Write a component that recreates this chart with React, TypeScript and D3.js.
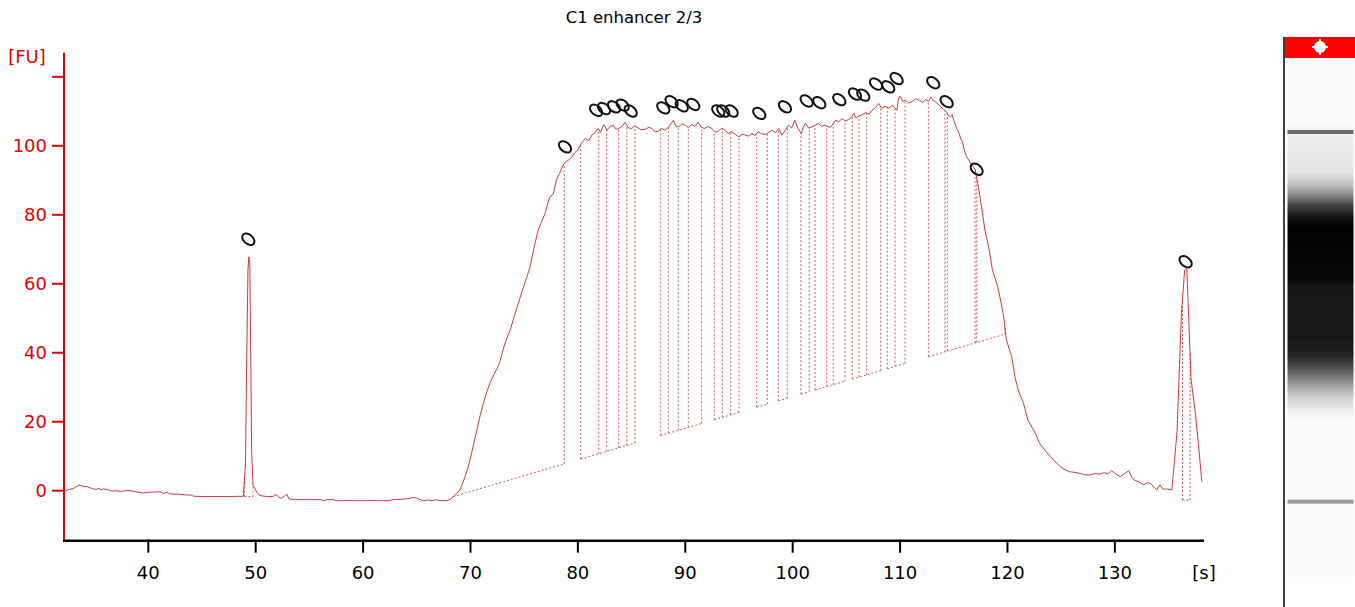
import * as d3 from 'd3';
import {useEffect, useRef} from 'react';

const title = 'C1 enhancer 2/3';
const xTicks = [40, 50, 60, 70, 80, 90, 100, 110, 120, 130];
const yTicks = [0, 20, 40, 60, 80, 100, 120];
const yTickLabels = ['0', '20', '40', '60', '80', '100', ''];

// [time s, FU]
const trace: [number, number][] = [
	[32.15, -0.3], [32.5, 0.3], [33.0, 0.6], [33.4, 1.4], [33.6, 1.6], [34.0, 1.2], [34.3, 1.2], [34.6, 0.8],
	[34.9, 0.5], [35.2, 0.4], [35.4, 0.7], [35.6, 0.2], [35.8, 0.5], [36.2, 0.3], [36.6, -0.1], [37.0, 0.0],
	[37.4, -0.2], [37.8, 0.0], [38.3, 0.0], [38.8, -0.3], [39.3, -0.5], [39.5, -0.7], [40.0, -0.5], [40.5, -0.4],
	[41.1, -0.3], [41.4, -0.8], [41.7, -0.5], [42.0, -0.9], [42.3, -1.0], [42.8, -1.0], [43.4, -1.2], [44.0, -1.3],
	[44.2, -1.6], [45.0, -1.7], [46.4, -1.7], [47.5, -1.7], [48.85, -1.6],
	[49.05, 8], [49.15, 35], [49.28, 64], [49.35, 67.8], [49.45, 66], [49.53, 42], [49.62, 12], [49.75, 1.5],
	[49.9, 0.8], [50.1, -0.5], [50.3, -1.2], [50.6, -1.5],
	[51.0, -1.7], [51.6, -1.7], [51.8, -1.1], [52.0, -1.4], [52.3, -2.2], [52.6, -1.8], [52.9, -1.0], [53.1, -2.4],
	[53.5, -2.5], [54.1, -2.6], [55.0, -2.6], [56.0, -2.6], [56.4, -2.9], [56.6, -2.6], [57.3, -2.6], [57.5, -2.9],
	[59.0, -2.9], [60.3, -2.9], [61.5, -2.9], [62.5, -2.9], [62.7, -2.6], [63.5, -2.5], [64.2, -2.3], [64.6, -2.0],
	[65.0, -2.1], [65.3, -2.6], [65.6, -2.9], [66.0, -2.7], [66.4, -2.9], [66.8, -2.6], [67.2, -2.9], [67.8, -2.9],
	[68.1, -2.5], [68.4, -1.8],
	[68.7, -0.8], [69.0, 0.2], [69.25, 2.0], [69.5, 4.1], [69.75, 6.5], [69.95, 8.9], [70.3, 13.5], [70.6, 17.6],
	[70.9, 21.8], [71.2, 25.3], [71.5, 28.5], [71.8, 31.1], [72.2, 33.8], [72.5, 35.5], [72.75, 37.5], [73.0, 40.5],
	[73.3, 43.5], [73.7, 46.6], [74.1, 50.8], [74.45, 54.3], [74.8, 57.8], [75.2, 61.5], [75.55, 64.9], [75.9, 70.2],
	[76.3, 75.6], [76.6, 77.8], [76.95, 80.4], [77.2, 83.4], [77.4, 85.2], [77.7, 86.0], [78.0, 90.1], [78.3, 92.0],
	[78.55, 93.9], [78.8, 95.2], [79.1, 95.8], [79.45, 96.8], [79.7, 98.0], [80.0, 98.8], [80.3, 100.6], [80.7, 102.1],
	[81.0, 101.5], [81.3, 103.1], [81.6, 103.8], [81.9, 105.0], [82.1, 103.9], [82.4, 106.2], [82.7, 104.6], [83.0, 105.6],
	[83.3, 106.0], [83.55, 104.8], [83.8, 105.0], [84.1, 105.6], [84.4, 106.8], [84.7, 105.2], [85.0, 105.0], [85.3, 105.8],
	[85.6, 105.2], [85.9, 104.6], [86.3, 104.8], [86.6, 105.4], [86.9, 105.0], [87.2, 104.0], [87.5, 104.3], [87.8, 105.1],
	[88.1, 104.5], [88.5, 105.6], [88.9, 107.4], [89.1, 105.8], [89.4, 105.5], [89.7, 106.4], [90.0, 106.0], [90.3, 105.2],
	[90.6, 106.2], [90.9, 105.6], [91.2, 106.8], [91.5, 105.4], [91.8, 105.0], [92.1, 105.6], [92.5, 105.0], [92.8, 103.9],
	[93.1, 104.3], [93.4, 105.1], [93.7, 104.5], [94.0, 103.6], [94.3, 104.1], [94.7, 103.2], [95.0, 102.6], [95.3, 103.4],
	[95.6, 103.1], [95.9, 102.8], [96.2, 103.6], [96.5, 103.0], [96.8, 104.1], [97.1, 103.5], [97.5, 103.3], [97.8, 104.0],
	[98.1, 104.5], [98.4, 103.8], [98.7, 105.0], [99.0, 103.1], [99.3, 104.4], [99.6, 106.0], [99.9, 105.2], [100.2, 107.4],
	[100.5, 105.0], [100.8, 103.6], [101.0, 105.4], [101.2, 106.5], [101.5, 105.1], [101.8, 105.5], [102.1, 106.0], [102.4, 106.5],
	[102.7, 105.6], [103.0, 106.0], [103.5, 105.3], [103.75, 106.3], [104.0, 107.4], [104.3, 107.0], [104.6, 107.9], [104.9, 107.2],
	[105.2, 107.6], [105.45, 108.2], [105.7, 109.4], [105.9, 108.0], [106.1, 108.6], [106.45, 109.0], [106.8, 109.6], [107.1, 109.2],
	[107.4, 110.3], [107.7, 111.0], [108.0, 112.3], [108.3, 110.8], [108.6, 111.5], [108.95, 110.9], [109.3, 111.8], [109.5, 111.0],
	[109.7, 110.3], [109.85, 113.6], [110.0, 114.4], [110.25, 112.9], [110.5, 113.2], [110.8, 112.4], [111.1, 112.8], [111.45, 113.6],
	[111.8, 113.2], [112.1, 112.6], [112.4, 113.4], [112.65, 112.9], [112.9, 114.2], [113.1, 113.0], [113.3, 112.8], [113.55, 112.0],
	[113.8, 111.3], [114.05, 110.5], [114.3, 109.9], [114.5, 108.8], [114.7, 108.4], [114.85, 109.0], [115.0, 107.4], [115.25, 105.2],
	[115.5, 103.6], [115.65, 102.0], [115.8, 101.2], [116.0, 98.5], [116.2, 96.8], [116.45, 95.6], [116.7, 94.4], [117.0, 93.0],
	[117.3, 88.0], [117.6, 82.0], [117.9, 75.6], [118.3, 69.8], [118.6, 64.0], [119.1, 59.1], [119.6, 51.4], [119.9, 43.7],
	[120.4, 38.8], [120.7, 33.0], [121.0, 29.2], [121.5, 25.3], [121.9, 20.5], [122.6, 16.6], [123.0, 13.7], [123.6, 11.3],
	[124.3, 8.9], [124.9, 7.0], [125.4, 6.0], [125.8, 5.5], [126.3, 5.3], [126.8, 5.0], [127.2, 4.6], [127.7, 4.6],
	[128.2, 5.0], [128.6, 4.8], [129.0, 5.2], [129.4, 4.9], [129.7, 5.8], [130.1, 4.8], [130.5, 4.1], [130.9, 4.9],
	[131.3, 5.8], [131.5, 4.3], [131.8, 3.1], [132.2, 2.6], [132.7, 1.7], [133.0, 2.3], [133.3, 2.1], [133.6, 1.2],
	[133.9, 0.2], [134.2, 1.7], [134.5, 0.4], [134.9, 0.5], [135.3, 0.2], [135.45, 5.0], [135.8, 17.6], [136.0, 35.0],
	[136.2, 51.4], [136.5, 64.0], [136.7, 64.5], [136.8, 56.2], [137.1, 32.1], [137.5, 22.4], [137.8, 12.8], [138.1, 2.6],
];

// peak label markers [time, FU]
const peakMarkers: [number, number][] = [
	[49.31, 72.9], [78.8, 99.7], [81.69, 110.3], [82.43, 110.8], [83.36, 111.3], [84.17, 111.8], [84.92, 110.1],
	[87.95, 111.0], [88.73, 112.8], [89.67, 111.6], [90.75, 112.0], [93.07, 110.1], [93.54, 110.1], [94.32, 110.1],
	[96.89, 109.4], [99.28, 111.3], [101.3, 113.0], [102.48, 112.5], [104.34, 113.4], [105.8, 115.0], [106.57, 114.7],
	[107.76, 117.9], [108.9, 117.1], [109.68, 119.5], [113.09, 118.3], [114.34, 112.8], [117.13, 93.2], [136.59, 66.4],
];

// baselines [[t0, v0], [t1, v1]] and peak boundary times on them
const mainBaseline: [number, number][] = [[68.4, -1.7], [119.77, 45.4]];
const mainGroups: number[][] = [
	[68.4, 78.73],
	[80.26, 81.94, 82.68, 83.8, 84.55, 85.32],
	[87.71, 88.42, 89.35, 90.28, 91.53],
	[92.7, 93.45, 94.23, 95.0],
	[96.65, 97.64],
	[98.66, 99.5],
	[100.77, 101.55],
	[102.08, 103.17, 103.78, 104.87],
	[105.55, 106.18, 106.89, 108.2],
	[108.81, 109.53, 110.46],
	[112.63, 114.18, 114.4, 116.98, 117.14, 119.77],
];
const lowerMarkerBaseline: [number, number][] = [[48.95, -1.7], [49.75, -1.7]];
const lowerMarkerGroup = [48.95, 49.75];
const upperMarkerBaseline: [number, number][] = [[136.3, -2.7], [137.0, -2.7]];
const upperMarkerGroup = [136.3, 137.0];

// gel lane: migration time of marker bands and smear lightness profile [time, grey 0-255]
const gelMarkers = [49.35, 136.6];
const gelProfile: [number, number][] = [
	[138.5, 250], [135.5, 238], [127.0, 228], [124.1, 190], [121.8, 140], [119.4, 70], [116.6, 20], [114.2, 0],
	[101.2, 8], [100.5, 22], [87.6, 24], [84.0, 34], [81.6, 68], [78.1, 136], [74.5, 200], [71.0, 236], [68.6, 250],
];

const W = 1355;
const H = 607;
const RED = '#e00000';
const TRACE = '#cc3a3a';
const FONT = 'DejaVu Sans, Verdana, sans-serif';

export default function App() {
	const svgRef = useRef<SVGSVGElement>(null);

	useEffect(() => {
		const svg = d3.select(svgRef.current).attr('width', W).attr('height', H).style('background', '#fff');
		svg.selectAll('*').remove();

		const x = d3.scaleLinear().domain([32.15, 138.3]).range([64, 1204]);
		const y = d3.scaleLinear().domain([-14.5, 127]).range([540.7, 52.7]);

		const bis = d3.bisector((d: [number, number]) => d[0]).left;
		const traceAt = (t: number) => {
			const i = Math.max(1, Math.min(trace.length - 1, bis(trace, t)));
			const a = trace[i - 1];
			const b = trace[i];
			return a[1] + ((b[1] - a[1]) * (t - a[0])) / (b[0] - a[0]);
		};
		const baseAt = (base: [number, number][], t: number) =>
			base[0][1] + ((base[1][1] - base[0][1]) * (t - base[0][0])) / (base[1][0] - base[0][0]);

		svg
			.append('text')
			.attr('x', 634)
			.attr('y', 23)
			.attr('text-anchor', 'middle')
			.style('font-family', FONT)
			.style('font-size', '16.5px')
			.text(title);

		// peak boundaries and baselines
		const dotted = svg.append('g').attr('fill', 'none').attr('stroke', '#d65a5a').attr('stroke-width', 1).attr('stroke-dasharray', '2,2');
		const drawGroup = (base: [number, number][], bounds: number[]) => {
			const t0 = bounds[0];
			const t1 = bounds[bounds.length - 1];
			dotted
				.append('line')
				.attr('x1', x(t0))
				.attr('y1', y(baseAt(base, t0)))
				.attr('x2', x(t1))
				.attr('y2', y(baseAt(base, t1)));
			bounds.forEach((t) => {
				dotted
					.append('line')
					.attr('x1', x(t))
					.attr('x2', x(t))
					.attr('y1', y(baseAt(base, t)))
					.attr('y2', y(traceAt(t)));
			});
		};
		mainGroups.forEach((g) => drawGroup(mainBaseline, g));
		drawGroup(lowerMarkerBaseline, lowerMarkerGroup);
		drawGroup(upperMarkerBaseline, upperMarkerGroup);

		const line = d3
			.line<[number, number]>()
			.x((d) => x(d[0]))
			.y((d) => y(d[1]));
		svg.append('path').datum(trace).attr('d', line).attr('fill', 'none').attr('stroke', TRACE).attr('stroke-width', 1);

		svg
			.append('g')
			.selectAll('ellipse')
			.data(peakMarkers)
			.join('ellipse')
			.attr('rx', 7)
			.attr('ry', 4.6)
			.attr('transform', (d) => `translate(${x(d[0])},${y(d[1])}) rotate(40)`)
			.attr('fill', 'none')
			.attr('stroke', '#111')
			.attr('stroke-width', 2);

		// y axis (red)
		const yAxis = svg.append('g').attr('transform', 'translate(64,0)');
		yAxis
			.append('line')
			.attr('x1', 0)
			.attr('x2', 0)
			.attr('y1', y(127))
			.attr('y2', y(-14.5))
			.attr('stroke', RED)
			.attr('stroke-width', 2);
		yTicks.forEach((v, i) => {
			yAxis.append('line').attr('x1', -12).attr('x2', 0).attr('y1', y(v)).attr('y2', y(v)).attr('stroke', RED).attr('stroke-width', 2);
			yAxis
				.append('text')
				.attr('x', -17)
				.attr('y', y(v))
				.attr('dy', '0.36em')
				.attr('text-anchor', 'end')
				.attr('fill', RED)
				.style('font-family', FONT)
				.style('font-size', '18px')
				.text(yTickLabels[i]);
		});
		svg
			.append('text')
			.attr('x', 27)
			.attr('y', 63)
			.attr('text-anchor', 'middle')
			.attr('fill', RED)
			.style('font-family', FONT)
			.style('font-size', '18px')
			.text('[FU]');

		// x axis
		const xAxis = svg.append('g').attr('transform', `translate(0,${y(-14.5)})`);
		xAxis.append('line').attr('x1', 63).attr('x2', 1204).attr('stroke', '#000').attr('stroke-width', 2.5);
		xTicks.forEach((t) => {
			xAxis.append('line').attr('x1', x(t)).attr('x2', x(t)).attr('y1', 0).attr('y2', 12).attr('stroke', '#000').attr('stroke-width', 2);
			xAxis
				.append('text')
				.attr('x', x(t))
				.attr('y', 38)
				.attr('text-anchor', 'middle')
				.style('font-family', FONT)
				.style('font-size', '18px')
				.text(t);
		});
		xAxis
			.append('text')
			.attr('x', 1204)
			.attr('y', 38)
			.attr('text-anchor', 'middle')
			.style('font-family', FONT)
			.style('font-size', '18px')
			.text('[s]');

		// gel lane
		const gy = d3.scaleLinear().domain(gelMarkers).range([501.7, 132]);
		const laneTop = 58;
		const laneBottom = 577;
		const defs = svg.append('defs');
		const grad = defs
			.append('linearGradient')
			.attr('id', 'gel')
			.attr('gradientUnits', 'userSpaceOnUse')
			.attr('x1', 0)
			.attr('x2', 0)
			.attr('y1', laneTop)
			.attr('y2', laneBottom);
		gelProfile.forEach(([t, g]) => {
			grad
				.append('stop')
				.attr('offset', (gy(t) - laneTop) / (laneBottom - laneTop))
				.attr('stop-color', d3.rgb(g, g, g).formatHex());
		});
		const gel = svg.append('g');
		gel.append('rect').attr('x', 1287.5).attr('y', laneTop).attr('width', 66).attr('height', laneBottom - laneTop).attr('fill', 'url(#gel)');
		gelMarkers.forEach((t, i) => {
			gel
				.append('rect')
				.attr('x', 1287.5)
				.attr('y', gy(t) - 2)
				.attr('width', 66)
				.attr('height', 4)
				.attr('fill', i === 0 ? '#9a9a9a' : '#6e6e6e');
		});
		gel.append('rect').attr('x', 1285).attr('y', 37).attr('width', 70).attr('height', 21).attr('fill', '#f00');
		gel.append('circle').attr('cx', 1320).attr('cy', 47).attr('r', 6).attr('fill', '#fff');
		gel.append('rect').attr('x', 1319).attr('y', 39).attr('width', 2).attr('height', 16).attr('fill', '#fff');
		gel.append('rect').attr('x', 1312).attr('y', 46).attr('width', 16).attr('height', 2).attr('fill', '#fff');
		gel.append('line').attr('x1', 1284).attr('x2', 1284).attr('y1', 37).attr('y2', H).attr('stroke', '#000').attr('stroke-width', 1.5);
	}, []);

	return (
		<div style={{position: 'absolute', left: 0, top: 0}}>
			<svg ref={svgRef} style={{display: 'block'}} />
		</div>
	);
}
